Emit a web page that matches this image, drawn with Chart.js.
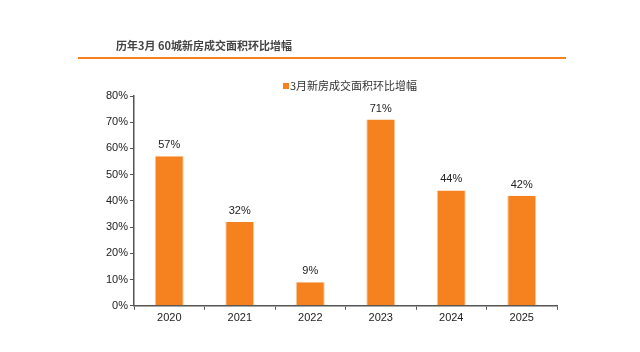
<!DOCTYPE html>
<html>
<head>
<meta charset="utf-8">
<script src="https://cdn.jsdelivr.net/npm/chart.js@4/dist/chart.umd.min.js"></script>
<style>
  html, body { margin: 0; padding: 0; background: #fff; }
  #wrap { width: 640px; height: 352px; position: relative; }
</style>
</head>
<body>
<div id="wrap"><canvas id="grafica"></canvas></div>
<script>
const years = ['2020', '2021', '2022', '2023', '2024', '2025'];
const valores = [57, 32, 9, 71, 44, 42];
const serieNombre = '3月新房成交面积环比增幅';
const titulo = '历年3月 60城新房成交面积环比增幅';
const naranja = '#F5821F';

// titulo, linea naranja, leyenda y etiquetas de valor
const extras = {
  id: 'extras',
  afterDraw(chart) {
    const ctx = chart.ctx;
    ctx.save();
    ctx.fillStyle = '#444';
    ctx.font = 'bold 11px "Noto Sans CJK SC", sans-serif';
    ctx.textBaseline = 'middle';
    ctx.fillText(titulo, 116, 46);
    ctx.strokeStyle = naranja;
    ctx.lineWidth = 2;
    ctx.beginPath();
    ctx.moveTo(78, 58);
    ctx.lineTo(566, 58);
    ctx.stroke();

    // leyenda
    ctx.fillStyle = naranja;
    ctx.fillRect(283, 83, 6, 6);
    ctx.fillStyle = '#333';
    ctx.font = '11px "Noto Sans CJK SC", sans-serif';
    ctx.fillText(chart.data.datasets[0].label, 290, 86);

    // etiquetas
    const meta = chart.getDatasetMeta(0);
    ctx.font = '11px "Liberation Sans", Arial, sans-serif';
    ctx.textAlign = 'center';
    ctx.textBaseline = 'middle';
    ctx.fillStyle = '#222';
    meta.data.forEach((bar, i) => {
      ctx.fillText(chart.data.datasets[0].data[i] + '%', bar.x, bar.y - 11);
    });
    ctx.restore();
  }
};

const ctx = document.getElementById('grafica').getContext('2d');
new Chart(ctx, {
  type: 'bar',
  data: {
    labels: years,
    datasets: [{
      label: serieNombre,
      data: valores,
      backgroundColor: naranja,
      borderColor: '#FBC79A',
      borderWidth: { left: 1, right: 1, top: 0, bottom: 0 },
      barPercentage: 0.41,
      categoryPercentage: 1
    }]
  },
  options: {
    responsive: true,
    maintainAspectRatio: false,
    animation: false,
    layout: { padding: { top: 96, left: 104, right: 83, bottom: 25 } },
    plugins: {
      legend: { display: false },
      tooltip: { enabled: false }
    },
    scales: {
      x: {
        grid: { display: true, drawOnChartArea: false, drawTicks: true, tickLength: 4, color: '#555', offset: true },
        border: { color: '#555', width: 1.5 },
        ticks: { color: '#222', font: { family: '"Liberation Sans", Arial, sans-serif', size: 11 }, padding: 2 }
      },
      y: {
        min: 0,
        max: 80,
        grid: { display: true, drawOnChartArea: false, drawTicks: true, tickLength: 4, color: '#555' },
        border: { color: '#555', width: 1.5 },
        ticks: {
          stepSize: 10,
          color: '#222',
          padding: 2,
          font: { family: '"Liberation Sans", Arial, sans-serif', size: 11 },
          callback: v => v + '%'
        }
      }
    }
  },
  plugins: [extras]
});
</script>
</body>
</html>
